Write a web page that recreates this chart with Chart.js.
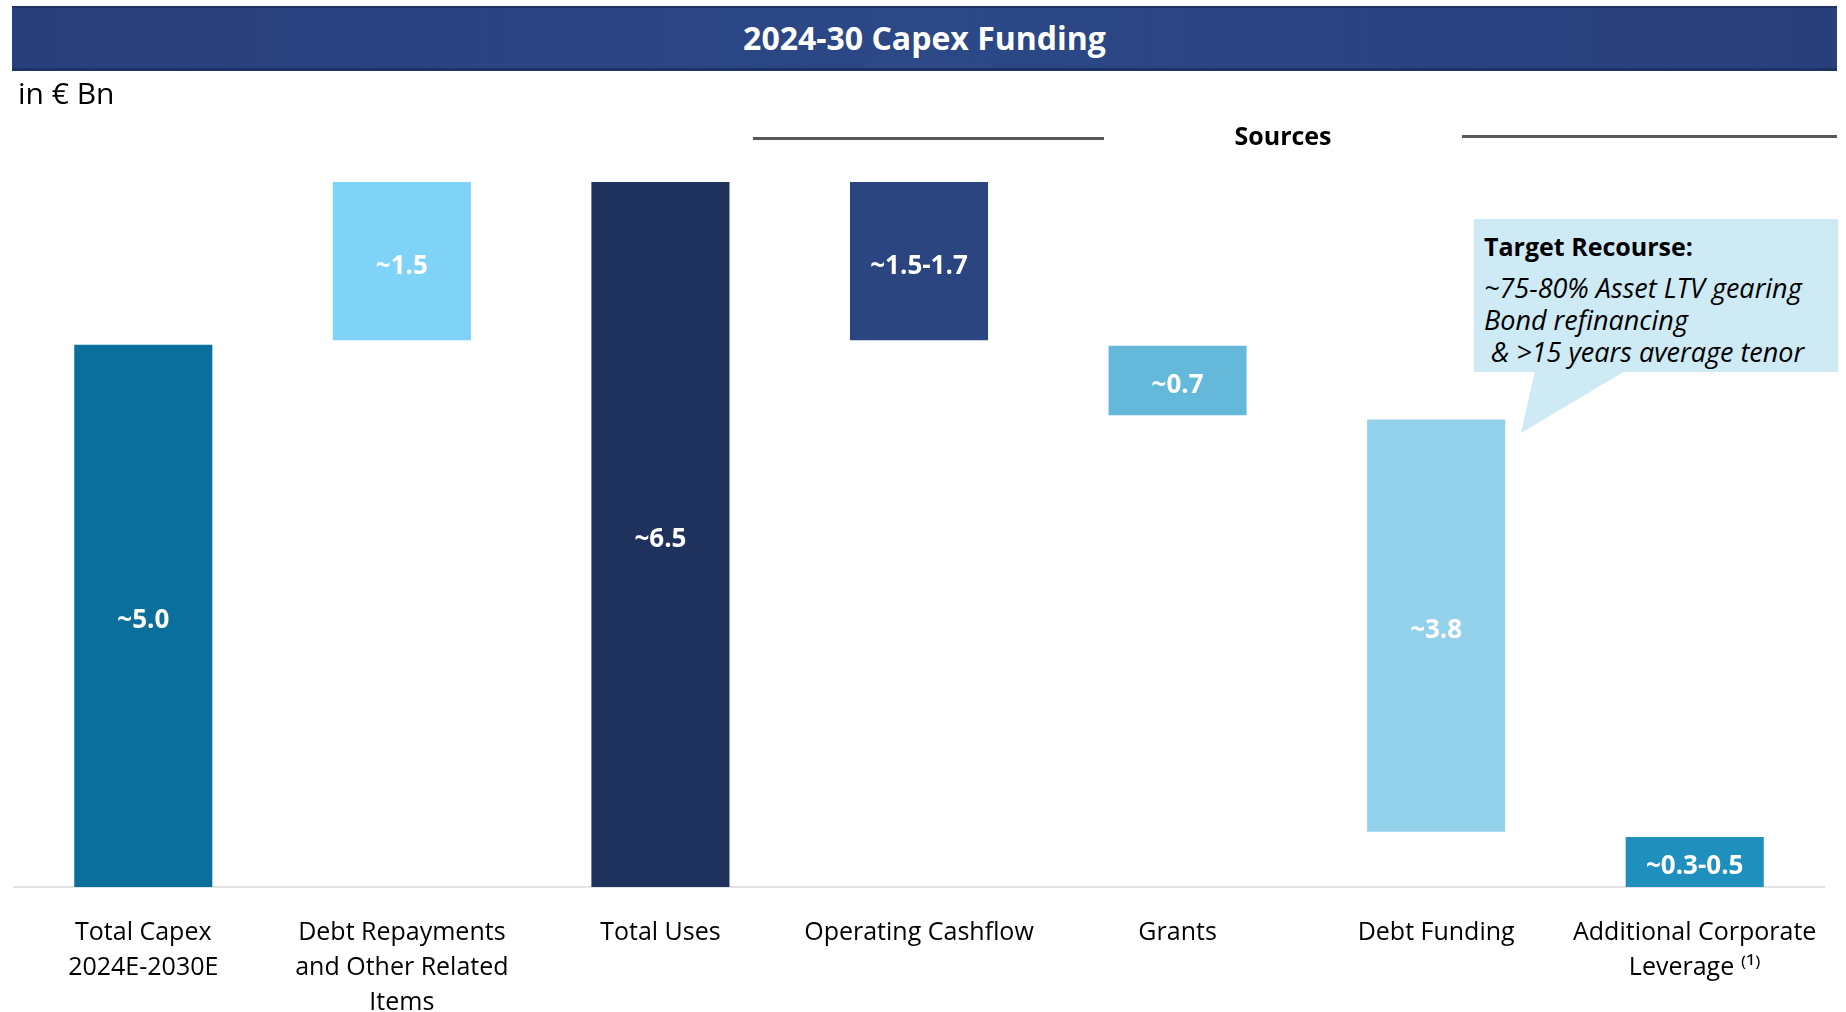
<!DOCTYPE html>
<html>
<head>
<meta charset="utf-8">
<script src="https://cdn.jsdelivr.net/npm/chart.js@4.4.1/dist/chart.umd.min.js"></script>
<style>
  html, body { margin: 0; padding: 0; background: #fff; }
  body { width: 1846px; height: 1012px; position: relative; overflow: hidden; font-family: "Open Sans", "Noto Sans", sans-serif; }
  #wrap { position: absolute; left: 0; top: 0; width: 1846px; height: 1012px; }
  .banner {
    position: absolute; left: 12px; top: 6px; width: 1825px; height: 60px;
    background: linear-gradient(to right, #293f7b, #2c4887 50%, #293f7b);
    border-top: 2px solid #1e3263; border-bottom: 3px solid #1e3263;
    color: #fff; font-weight: 700; font-size: 32px; line-height: 60px; text-align: center;
  }
  .unit { position: absolute; left: 18px; top: 72px; font-size: 30px; color: #000; }
  .sources { position: absolute; left: 1183px; width: 200px; top: 118px; text-align: center; font-size: 25px; font-weight: 700; color: #000; }
  .rule { position: absolute; height: 3px; background: #595959; }
  .callout {
    position: absolute; left: 1474px; top: 219px; width: 364px; height: 153px;
    background: #cdeaf5; color: #000; box-sizing: border-box; padding: 9px 0 0 10px;
  }
  .callout .hd { font-weight: 700; font-size: 25px; line-height: 36px; margin-bottom: 8px; }
  .callout .it { font-style: italic; font-size: 27px; line-height: 32px; white-space: pre; }
  svg.tail { position: absolute; left: 0; top: 0; }
</style>
</head>
<body>
<div id="wrap"><canvas id="chart" width="1846" height="1012"></canvas></div>
<div class="banner">2024-30 Capex Funding</div>
<div class="unit">in € Bn</div>
<div class="rule" style="left:753px; top:137px; width:351px;"></div>
<div class="sources">Sources</div>
<div class="rule" style="left:1462px; top:135px; width:375px;"></div>
<svg class="tail" width="1846" height="1012"><polygon points="1535,371 1625,371 1521,433" fill="#cdeaf5"/></svg>
<div class="callout">
  <div class="hd">Target Recourse:</div>
  <div class="it">~75-80% Asset LTV gearing</div>
  <div class="it">Bond refinancing</div>
  <div class="it"> &amp; &gt;15 years average tenor</div>
</div>
<script>
const categories = [
  ["Total Capex", "2024E-2030E"],
  ["Debt Repayments", "and Other Related", "Items"],
  "Total Uses",
  "Operating Cashflow",
  "Grants",
  "Debt Funding",
  ["Additional Corporate", "Leverage \u207D\u00B9\u207E"]
];
// bottom and top of each floating bar, € Bn
const barLow = [0, 5.04, 0, 5.04, 4.35, 0.51, 0];
const barHigh = [5.0, 6.5, 6.5, 6.5, 4.99, 4.31, 0.46];
const barLabels = ["~5.0", "~1.5", "~6.5", "~1.5-1.7", "~0.7", "~3.8", "~0.3-0.5"];
const barColors = ["#0a6f9a", "#7fd3f7", "#1f325e", "#2a4580", "#64b9da", "#93d2ea", "#1f90be"];

const barText = {
  id: "barText",
  afterDatasetsDraw(chart) {
    const ctx = chart.ctx;
    const meta = chart.getDatasetMeta(0);
    ctx.save();
    ctx.fillStyle = "#fff";
    ctx.font = "700 26px 'Open Sans', 'Noto Sans', sans-serif";
    ctx.textAlign = "center";
    ctx.textBaseline = "middle";
    meta.data.forEach((bar, i) => {
      ctx.fillText(barLabels[i], bar.x, (bar.y + bar.base) / 2 + 5);
    });
    ctx.restore();
  }
};

new Chart(document.getElementById("chart"), {
  type: "bar",
  data: {
    labels: categories,
    datasets: [{
      data: barLow.map((lo, i) => [lo, barHigh[i]]),
      backgroundColor: barColors,
      borderWidth: 0,
      barPercentage: 0.534,
      categoryPercentage: 1.0
    }]
  },
  options: {
    responsive: false,
    animation: false,
    layout: { padding: { left: 14, right: 22, top: 182, bottom: 0 } },
    plugins: { legend: { display: false }, tooltip: { enabled: false } },
    scales: {
      y: { display: false, min: 0, max: 6.5 },
      x: {
        afterFit: (scale) => { scale.height = 125; },
        grid: { display: false, drawTicks: false },
        border: { display: true, color: "#e3e3e3", width: 2 },
        ticks: {
          padding: 28,
          color: "#000",
          maxRotation: 0,
          autoSkip: false,
          font: { family: "'Open Sans', 'Noto Sans', sans-serif", size: 25, lineHeight: 1.4 }
        }
      }
    }
  },
  plugins: [barText]
});
</script>
</body>
</html>
